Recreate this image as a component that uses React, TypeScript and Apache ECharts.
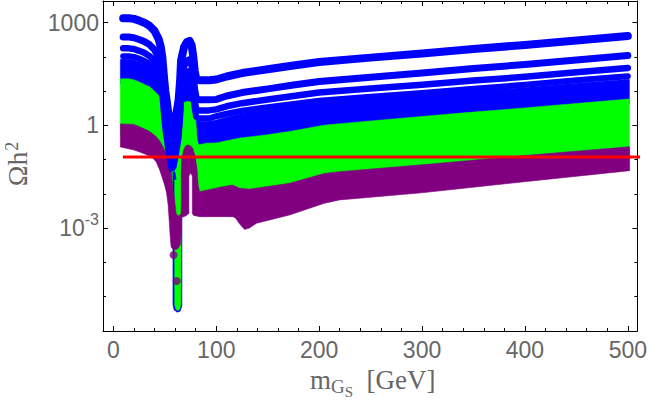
import React, { useEffect, useRef } from 'react';
import * as echarts from 'echarts';

const BLUE = '#0000ff';
const GREEN = '#00ff00';
const PURPLE = '#800080';
const RED = '#ff0000';
const LABEL = '#666666';
const SANS = '"Liberation Sans", Arial, sans-serif';
const SERIF = '"Liberation Serif", "Times New Roman", serif';

// axis ranges and ticks
const X_MIN = -10.1;
const X_MAX = 509.3;
const Y_MIN = 1e-6;
const Y_MAX = 4295;
const X_MAJOR = [0, 100, 200, 300, 400, 500];
const X_MINOR = [20, 40, 60, 80, 120, 140, 160, 180, 220, 240, 260, 280, 320, 340, 360, 380, 420, 440, 460, 480];
const Y_MAJOR = [1000, 1, 0.001];
const Y_MINOR = [100, 10, 0.1, 0.01, 0.0001, 0.00001];

// planck relic density
const OMEGA_PLANCK = 0.12;
const planckLine = [[9.3, OMEGA_PLANCK], [520, OMEGA_PLANCK]];

// mass grid of the separated blue curves (GeV)
const massGrid = [9.5, 15, 20, 25, 30, 35, 40, 44, 46, 47.5, 48.5, 49.5, 50.5, 51.7, 53, 54.5, 56.5, 58.5, 61, 63.4, 64.9, 65.8, 68.7, 71.5, 74, 76, 77.5, 79, 80.5, 83, 93, 100, 110, 125, 150, 175, 200, 250, 300, 350, 400, 450, 500];
const curveA = [1350, 1350, 1290, 1150, 1000, 813, 575, 331, 200, 100, 44.7, 20.0, 10.0, 5.62, 2.82, 1.41, 0.708, 0.794, 2.0, 5.62, 21.4, 79.4, 195, 275, 295, 224, 112, 39.8, 22.9, 20.9, 20.9, 21.9, 26.9, 33.9, 43.7, 56.2, 70.8, 95.5, 126, 170, 224, 302, 407];
const curveB = [380, 380, 363, 324, 282, 229, 162, 93.3, 56.2, 28.2, 12.6, 5.62, 2.82, 1.58, 0.794, 0.398, 0.2, 0.224, 0.562, 1.58, 6.03, 22.4, 55, 77.6, 83.2, 63.1, 31.6, 11.2, 6.31, 5.62, 5.62, 5.75, 7.24, 9.12, 11.7, 15.1, 19.1, 25.7, 33.9, 45.7, 60.3, 81.3, 110];
const curveC = [178, 178, 170, 151, 132, 107, 75.9, 43.7, 26.3, 13.2, 5.89, 2.63, 1.32, 0.741, 0.372, 0.186, 0.0933, 0.105, 0.263, 0.741, 2.82, 10.5, 25.7, 36.3, 38.9, 29.5, 14.8, 5.25, 3.02, 2.75, 2.75, 2.95, 3.63, 4.47, 5.75, 7.24, 9.12, 12.0, 15.5, 20.4, 26.3, 35.5, 47.9];
const curveD = [105, 105, 100, 89.1, 77.6, 63.1, 44.7, 25.7, 15.5, 7.76, 3.47, 1.55, 0.776, 0.437, 0.219, 0.110, 0.055, 0.0617, 0.155, 0.437, 1.66, 6.17, 15.1, 21.4, 22.9, 17.4, 8.71, 3.09, 1.78, 1.62, 1.62, 1.86, 2.19, 2.69, 3.39, 4.27, 5.25, 6.92, 8.91, 11.7, 15.5, 20.9, 27.5];

// dense blue band outline [mass, omega]
const blueBand = [
  [6.8, 85.1], [15, 85.1], [20, 81.3], [25, 72.4], [30, 63.1], [35, 51.3], [40, 36.3], [44, 20.9], [46, 12.6], [47.5, 6.31], [48.5, 2.82],
  [49.5, 20.0], [50.5, 10.0], [51.7, 5.62], [53, 2.82], [54.5, 1.41], [56.5, 0.708], [58.5, 0.794], [61, 2.0], [63.4, 5.62],
  [64.9, 1.35], [65.8, 5.01], [68.7, 12.3], [71.5, 17.4], [74, 18.6], [76, 14.1], [77.5, 7.08], [79, 2.51], [80.5, 1.45], [83, 1.32],
  [93, 1.32], [100, 1.45], [110, 1.78], [125, 2.24], [150, 2.82], [175, 3.63], [200, 4.47], [250, 5.89], [300, 7.59], [350, 10.0],
  [400, 12.9], [450, 17.0], [501.5, 22.4],
  [501.5, 4.17], [450, 3.09], [400, 2.29], [350, 1.74], [300, 1.29], [250, 0.955], [205, 0.724], [171, 0.468], [150, 0.38], [123, 0.302],
  [100, 0.219], [84, 0.191], [66.3, 0.191], [62, 0.0631], [60, 0.0316], [58.5, 0.0282], [57, 0.0316], [54, 0.1], [50, 0.631], [46, 3.16],
  [40, 6.31], [35, 8.91], [30, 11.2], [20, 15.1], [6.8, 16.2],
];

// green band outline
const greenBand = [
  [6.8, 22.9], [15, 22.9], [20, 21.4], [25, 18.6], [30, 15.8], [35.3, 13.5], [40, 10.0], [45, 6.92], [49.8, 3.24], [52.7, 1.45],
  [55.1, 0.603], [56.3, 0.309], [57.3, 0.0977], [58.1, 0.0501], [59.8, 0.0437], [60.5, 0.0977], [61.2, 0.309], [61.9, 1.02],
  [63.4, 2.29], [65.3, 3.47], [68.3, 4.57], [71.2, 5.01], [74.1, 5.01], [77, 4.27], [78.9, 2.82], [80.4, 1.02], [81.4, 0.38],
  [82.8, 0.269], [90.3, 0.302], [100, 0.309], [123, 0.427], [150, 0.537], [171, 0.661], [205, 1.02], [250, 1.35], [300, 1.82],
  [350, 2.45], [400, 3.24], [450, 4.37], [501.5, 5.89],
  [501.5, 0.135], [450, 0.1], [400, 0.0741], [300, 0.0398], [220, 0.0251], [171, 0.0115], [132, 0.00776], [116, 0.01], [84, 0.00708],
  [78.9, 0.0355], [74.1, 0.129], [69.2, 0.0851], [67.8, 0.0132], [61.5, 0.017], [58.5, 0.0087], [54.7, 0.0363], [51.5, 0.0661],
  [48.2, 0.12], [45, 0.17], [35.2, 0.331], [20, 0.525], [6.8, 0.525],
];

// purple band outline
const purpleBand = [
  [6.8, 1.11], [20, 1.07], [28.7, 0.828], [35.2, 0.668], [41.7, 0.471], [45, 0.353], [48.2, 0.24], [51.5, 0.147], [54.7, 0.0789],
  [56.3, 0.044], [57.1, 0.0224], [58.5, 0.0115], [60, 0.00479], [61, 0.00263], [63.4, 0.00229], [65.8, 0.00263], [66, 0.00676],
  [66, 0.0501], [66.3, 0.0984], [68.3, 0.193], [70.2, 0.252], [72.4, 0.27], [75, 0.252], [77, 0.22], [79.4, 0.129], [81.4, 0.0501],
  [82.3, 0.0184], [83.8, 0.0117], [106.1, 0.0162], [115.8, 0.0182], [122.6, 0.0148], [132.3, 0.0138], [171.2, 0.0204],
  [205.1, 0.0398], [219.7, 0.0447], [299.6, 0.0708], [399.6, 0.132], [501.8, 0.24],
  [501.8, 0.0479], [399.6, 0.0228], [299.6, 0.0108], [219.7, 0.0067], [205.1, 0.00537], [171.2, 0.00244], [139.1, 0.0014],
  [132.3, 0.00102], [127.5, 0.000923], [122.6, 0.00134], [118.7, 0.002], [115.8, 0.00218], [83.8, 0.00218], [78, 0.00237],
  [76.7, 0.0027], [76.7, 0.0336], [75, 0.0411], [73.4, 0.0336], [73.4, 0.0027], [70.2, 0.00229], [66.3, 0.00207], [66, 0.00078],
  [64.9, 0.000326], [62.4, 0.000249], [58.5, 0.000233], [56.1, 0.000284], [55.1, 0.000638], [54.2, 0.00175], [53.2, 0.00479],
  [51.7, 0.0107], [49.8, 0.0184], [48.2, 0.0257], [45, 0.0502], [41.7, 0.0861], [38.4, 0.11], [35.2, 0.129], [28.7, 0.155],
  [20, 0.193], [6.8, 0.236],
];

// narrow resonance column near m_h/2
const blueColumn = [[57.9, 0.044], [57.9, 5.79e-6], [59.0, 4.14e-6], [61.9, 3.54e-6], [64.9, 3.79e-6], [66.6, 5.41e-6], [66.6, 0.002], [59.8, 0.044]];
const greenColumn = [[59.6, 0.0257], [59.6, 5.79e-6], [60.8, 4.28e-6], [62.4, 3.94e-6], [64.2, 4.19e-6], [65.6, 5.79e-6], [65.8, 0.0257]];
const purpleDots = [[58.5, 1.66e-4], [61.5, 2.88e-5]];

function polygon(points: number[][], color: string) {
  return {
    type: 'custom',
    coordinateSystem: 'cartesian2d',
    xAxisIndex: 0,
    yAxisIndex: 0,
    silent: true,
    clip: true,
    data: [points[0]],
    encode: { x: 0, y: 1 },
    renderItem: (_params: any, api: any) => ({
      type: 'polygon',
      shape: { points: points.map((p) => api.coord(p)) },
      style: { fill: color, stroke: color, lineWidth: 0.6 },
    }),
  };
}

function curve(values: number[], width: number) {
  return {
    type: 'line',
    xAxisIndex: 0,
    yAxisIndex: 0,
    silent: true,
    symbol: 'none',
    showSymbol: false,
    clip: true,
    data: massGrid.map((m, i) => [m, values[i]]),
    lineStyle: { color: BLUE, width, cap: 'round', join: 'round' },
  };
}

const FRAME = { show: true, onZero: false, lineStyle: { color: '#000', width: 1 } };
const NOLINE = { show: false, onZero: false };

function xAxisDef(position: string, ticks: number[], len: number, line: boolean, labels: boolean) {
  return {
    type: 'value',
    position,
    min: X_MIN,
    max: X_MAX,
    splitLine: { show: false },
    axisLine: line ? FRAME : NOLINE,
    axisTick: { show: true, inside: true, length: len, customValues: ticks, lineStyle: { color: '#000', width: 1 } },
    axisLabel: labels
      ? { show: true, customValues: X_MAJOR, formatter: (v: number) => String(Math.round(v)), fontSize: 23, fontFamily: SANS, color: LABEL, margin: 7 }
      : { show: false },
  };
}

function yAxisDef(position: string, ticks: number[], len: number, line: boolean, labels: boolean) {
  return {
    type: 'log',
    logBase: 10,
    position,
    min: Y_MIN,
    max: Y_MAX,
    splitLine: { show: false },
    axisLine: line ? FRAME : NOLINE,
    axisTick: { show: true, inside: true, length: len, customValues: ticks, lineStyle: { color: '#000', width: 1 } },
    axisLabel: labels
      ? {
          show: true,
          customValues: Y_MAJOR,
          formatter: (v: number) => (v > 100 ? '1000' : v > 0.1 ? '1' : '{b|10}{s|-3}'),
          fontSize: 23,
          fontFamily: SANS,
          color: LABEL,
          margin: 4,
          rich: {
            b: { fontSize: 23, fontFamily: SANS, color: LABEL, lineHeight: 34 },
            s: { fontSize: 16, fontFamily: SANS, color: LABEL, lineHeight: 16, verticalAlign: 'top' },
          },
        }
      : { show: false },
  };
}

function label(text: string, x: number, y: number, size: number, rotation = 0) {
  return {
    type: 'text',
    x,
    y,
    rotation,
    silent: true,
    style: {
      text,
      fontSize: size,
      fontFamily: SERIF,
      fill: LABEL,
      align: 'left',
      verticalAlign: 'middle',
      textAlign: 'left',
      textVerticalAlign: 'middle',
    },
  };
}

const option = {
  animation: false,
  backgroundColor: '#ffffff',
  grid: { left: 103, right: 12, top: 1, bottom: 81, containLabel: false },
  xAxis: [
    xAxisDef('bottom', X_MAJOR, 5, true, true),
    xAxisDef('top', X_MAJOR, 5, true, false),
    xAxisDef('bottom', X_MINOR, 3, false, false),
    xAxisDef('top', X_MINOR, 3, false, false),
  ],
  yAxis: [
    yAxisDef('left', Y_MAJOR, 5, true, true),
    yAxisDef('right', Y_MAJOR, 5, true, false),
    yAxisDef('left', Y_MINOR, 3, false, false),
    yAxisDef('right', Y_MINOR, 3, false, false),
  ],
  series: [
    polygon(blueBand, BLUE),
    curve(curveA, 8),
    curve(curveB, 7),
    curve(curveC, 6.5),
    curve(curveD, 6),
    polygon(greenBand, GREEN),
    polygon(blueColumn, BLUE),
    polygon(greenColumn, GREEN),
    polygon(purpleBand, PURPLE),
    {
      type: 'scatter',
      xAxisIndex: 0,
      yAxisIndex: 0,
      silent: true,
      symbolSize: 8,
      data: purpleDots,
      itemStyle: { color: PURPLE },
    },
    {
      type: 'line',
      xAxisIndex: 0,
      yAxisIndex: 0,
      silent: true,
      symbol: 'none',
      clip: true,
      data: planckLine,
      lineStyle: { color: RED, width: 3 },
    },
  ],
  graphic: [
    label('\u03A9h', 17.2, 186.3, 28, Math.PI / 2),
    label('2', 12.4, 150.8, 18, Math.PI / 2),
    label('m', 310, 379.9, 27),
    label('G', 331, 386.9, 19),
    label('S', 344.8, 391.6, 15),
    label('[GeV]', 366.5, 379.9, 27),
  ],
};

export default function App() {
  const ref = useRef<HTMLDivElement>(null);
  useEffect(() => {
    if (!ref.current) return;
    const chart = echarts.init(ref.current, null, { renderer: 'svg' });
    chart.setOption(option as any);
    return () => chart.dispose();
  }, []);
  return (
    <div
      ref={ref}
      style={{ position: 'fixed', left: 0, top: 0, width: 650, height: 412, background: '#ffffff' }}
    />
  );
}
